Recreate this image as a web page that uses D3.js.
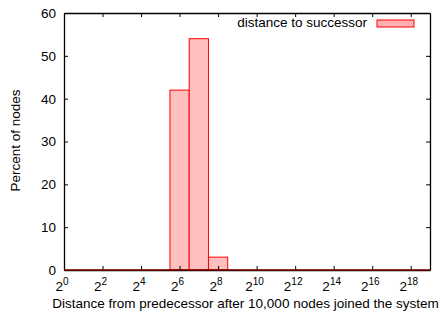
<!DOCTYPE html>
<html>
<head>
<meta charset="utf-8">
<script src="https://cdn.jsdelivr.net/npm/d3@7"></script>
<style>
  body { margin: 0; background: #fff; }
  text { font-family: "Liberation Sans", Arial, sans-serif; fill: #000; }
</style>
</head>
<body>
<div class="chart"></div>
<script>
// data: bins centred on log2 exponent, value = percent of nodes
const exponents = [0,1,2,3,4,5,6,7,8,9,10,11,12,13,14,15,16,17,18,19];
const percents  = [0,0,0,0,0,0,42,54,3,0,0,0,0,0,0,0,0,0,0,0];
const xTicks = [0,2,4,6,8,10,12,14,16,18];
const yTicks = [0,10,20,30,40,50,60];
const seriesName = 'distance to successor';

const W = 445, H = 314;
const M = {top: 13, right: 15, bottom: 44, left: 64};
const PW = W - M.left - M.right;
const PH = H - M.top - M.bottom;

let svg = d3.select('.chart').append('svg')
  .attr('width', W).attr('height', H);

const g = svg.append('g').attr('transform', `translate(${M.left},${M.top})`);

const x = d3.scaleLinear().domain([0, 19]).range([0, PW]);
const y = d3.scaleLinear().domain([0, 60]).range([PH, 0]);

g.append('clipPath').attr('id', 'clip')
  .append('rect').attr('width', PW).attr('height', PH);

// bars
g.append('g').attr('clip-path', 'url(#clip)')
  .selectAll('rect')
  .data(exponents.map((e, i) => ({e: e, v: percents[i]})))
  .enter().append('rect')
  .attr('x', d => x(d.e - 0.5))
  .attr('width', d => x(d.e + 0.5) - x(d.e - 0.5))
  .attr('y', d => y(d.v))
  .attr('height', d => y(0) - y(d.v))
  .attr('fill', '#ffbfbf')
  .attr('stroke', '#ff0000')
  .attr('stroke-width', 1);

// axes, ticks pointing inward on all four sides
const tickFmt = () => '';
g.append('g').attr('transform', `translate(0,${PH})`)
  .call(d3.axisBottom(x).tickValues(xTicks).tickSizeInner(-4).tickSizeOuter(0).tickFormat(tickFmt));
g.append('g')
  .call(d3.axisTop(x).tickValues(xTicks).tickSizeInner(-4).tickSizeOuter(0).tickFormat(tickFmt));
g.append('g')
  .call(d3.axisLeft(y).tickValues(yTicks).tickSizeInner(-4).tickSizeOuter(0).tickFormat(tickFmt));
g.append('g').attr('transform', `translate(${PW},0)`)
  .call(d3.axisRight(y).tickValues(yTicks).tickSizeInner(-4).tickSizeOuter(0).tickFormat(tickFmt));
g.selectAll('.domain').attr('stroke', '#000').attr('stroke-width', 1.3);
g.selectAll('.tick line').attr('stroke', '#000');

// zero line looks dark red where the empty bars sit on the axis
g.append('line')
  .attr('x1', 0).attr('x2', PW)
  .attr('y1', y(0)).attr('y2', y(0))
  .attr('stroke', '#7a0000').attr('stroke-width', 1.5);

// y tick labels
g.selectAll('.ylab').data(yTicks).enter().append('text')
  .attr('x', -8).attr('y', d => y(d)).attr('dy', '0.36em')
  .attr('text-anchor', 'end').style('font-size', '13.5px')
  .text(d => d);

// x tick labels 2^n
const xl = g.selectAll('.xlab').data(xTicks).enter().append('text')
  .attr('x', d => x(d) - 2).attr('y', PH + 21)
  .attr('text-anchor', 'middle').style('font-size', '13.5px');
xl.append('tspan').text('2');
xl.append('tspan').attr('dy', '-6').style('font-size', '10px').text(d => d);

// axis titles
g.append('text')
  .attr('x', PW / 2 - 1.5).attr('y', PH + 38)
  .attr('text-anchor', 'middle').style('font-size', '13.5px')
  .text('Distance from predecessor after 10,000 nodes joined the system');

g.append('text')
  .attr('transform', 'rotate(-90)')
  .attr('x', -PH / 2 + 1).attr('y', -M.left + 20)
  .attr('text-anchor', 'middle').style('font-size', '13.5px')
  .text('Percent of nodes');

// legend
const legend = g.append('g');
legend.append('text')
  .attr('x', 303).attr('y', 14)
  .attr('text-anchor', 'end').style('font-size', '13.5px')
  .text(seriesName);
legend.append('rect')
  .attr('x', 313).attr('y', 7).attr('width', 37).attr('height', 7)
  .attr('fill', '#ffb0b0').attr('stroke', '#ff0000');
</script>
</body>
</html>
